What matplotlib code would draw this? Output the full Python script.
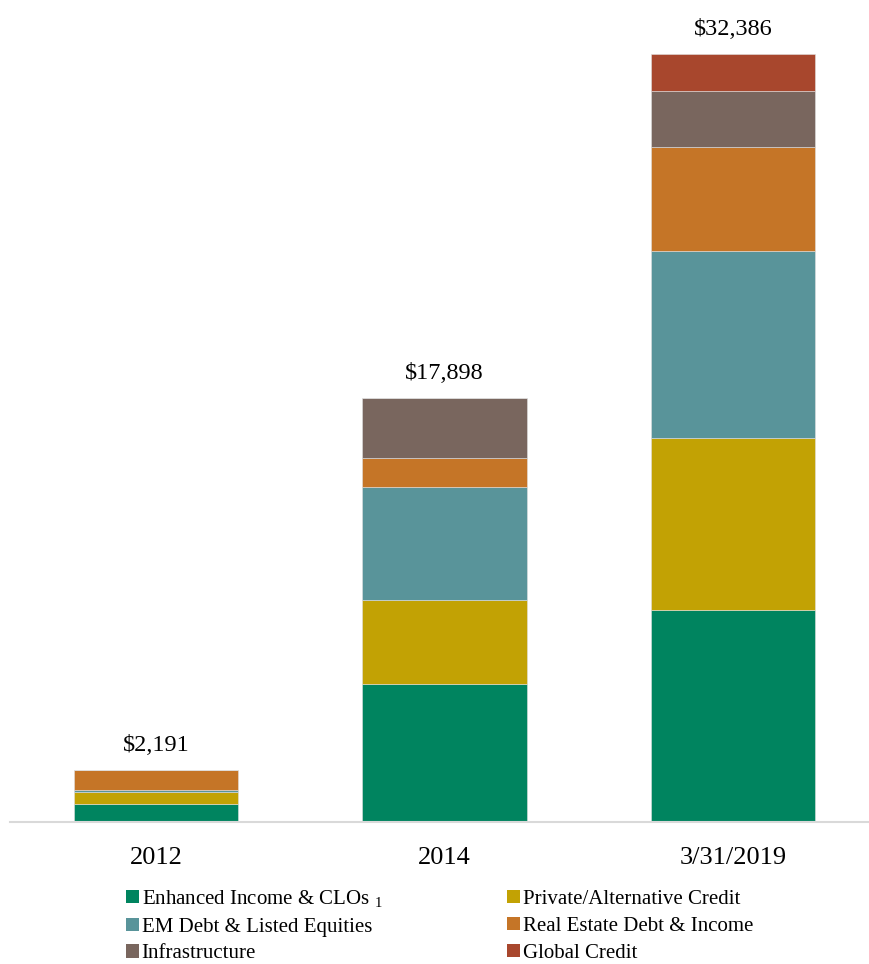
import numpy as np
import matplotlib.pyplot as plt
from matplotlib.patches import Patch

plt.rcParams['font.family'] = ['Liberation Serif', 'DejaVu Serif']
plt.rcParams['mathtext.fontset'] = 'custom'
plt.rcParams['mathtext.rm'] = 'Liberation Serif'

periods = ['2012', '2014', '3/31/2019']

# AUM by strategy ($ millions)
enhanced_income = [759, 5810, 8940]
private_credit = [506, 3540, 7250]
em_debt = [84, 4760, 7880]
real_estate = [842, 1260, 4380]
infrastructure = [0, 2528, 2380]
global_credit = [0, 0, 1556]

series = [
    ('Enhanced Income & CLOs $_{\\mathrm{1}}$', enhanced_income, '#00845f'),
    ('Private/Alternative Credit', private_credit, '#c2a204'),
    ('EM Debt & Listed Equities', em_debt, '#59949a'),
    ('Real Estate Debt & Income', real_estate, '#c57527'),
    ('Infrastructure', infrastructure, '#79665e'),
    ('Global Credit', global_credit, '#a8472d'),
]

fig = plt.figure(figsize=(8.69, 9.64), dpi=100)
ax = fig.add_axes([10 / 869, 142 / 964, 859 / 869, 822 / 964])

x = np.arange(len(periods))
bottom = np.zeros(len(periods))
for name, vals, col in series:
    vals = np.array(vals, dtype=float)
    ax.bar(x, vals, width=0.57, bottom=bottom, color=col, label=name,
           edgecolor='#e0e0e0', linewidth=0.4)
    bottom += vals

for xi, tot in zip(x, bottom):
    ax.annotate('${:,.0f}'.format(tot), (xi, tot), xytext=(0, 10),
                textcoords='offset points', ha='center', va='bottom',
                fontsize=17.5)

ax.set_xlim(-0.506, 2.471)
ax.set_ylim(0, 34670)
ax.set_xticks(x)
ax.set_xticklabels(periods, fontsize=19)
ax.tick_params(axis='x', length=0, pad=18)
ax.set_yticks([])
for s in ['top', 'left', 'right']:
    ax.spines[s].set_visible(False)
ax.spines['bottom'].set_color('#d9d9d9')
ax.spines['bottom'].set_linewidth(1.5)

# legend reads row by row: reorder for column-major filling
order = [0, 2, 4, 1, 3, 5]
handles = [Patch(facecolor=series[i][2], edgecolor='none') for i in order]
labels = [series[i][0] for i in order]
fig.legend(handles, labels, ncol=2, loc='upper left',
           bbox_to_anchor=(126 / 869, 1 - 888 / 964), frameon=False,
           fontsize=15, handlelength=0.6, handleheight=0.6,
           handletextpad=0.15, columnspacing=6.0, labelspacing=0.38,
           borderpad=0, borderaxespad=0)

fig.savefig('out.png', dpi=100)
